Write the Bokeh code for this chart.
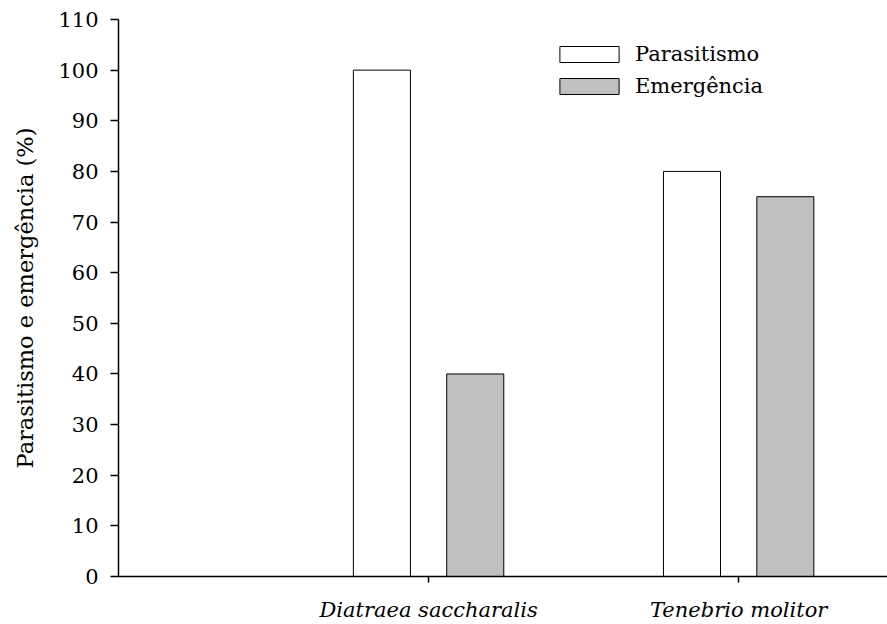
from bokeh.plotting import figure
from bokeh.models import ColumnDataSource, Range1d, FixedTicker, Legend, LegendItem
from bokeh.transform import dodge
from bokeh.embed import file_html
from bokeh.resources import INLINE

# Hosts and their measured rates (%)
categories = ["Diatraea saccharalis", "Tenebrio molitor"]
positions = [1, 2]
parasitismo = [100, 80]
emergencia = [40, 75]
y_ticks = list(range(0, 111, 10))

FONT = "DejaVu Serif"
FS = "21px"

src = ColumnDataSource(dict(pos=positions, cat=categories,
                            parasitismo=parasitismo, emergencia=emergencia))

p = figure(width=887, height=624, output_backend="svg", toolbar_location=None,
           x_range=Range1d(0, 2.48), y_range=Range1d(0, 110),
           min_border_left=118, min_border_right=0,
           min_border_top=19, min_border_bottom=47)
p.outline_line_color = None
p.xgrid.visible = False
p.ygrid.visible = False

bar_w = 0.184
off = 0.1505
r1 = p.vbar(x=dodge("pos", -off, range=p.x_range), top="parasitismo", width=bar_w,
            source=src, fill_color="white", line_color="black", line_width=1)
r2 = p.vbar(x=dodge("pos", off, range=p.x_range), top="emergencia", width=bar_w,
            source=src, fill_color="#c0c0c0", line_color="black", line_width=1)

# y axis
ya = p.yaxis[0]
ya.ticker = FixedTicker(ticks=y_ticks)
ya.minor_tick_line_color = None
ya.major_tick_in = 0
ya.major_tick_out = 8
ya.major_label_standoff = 12
ya.axis_line_width = 1.5
ya.major_tick_line_width = 1.5
ya.axis_line_color = "black"
ya.major_tick_line_color = "black"
ya.major_label_text_font = FONT
ya.major_label_text_font_size = FS
ya.major_label_text_color = "black"
ya.axis_label = "Parasitismo e emergência (%)"
ya.axis_label_text_font = FONT
ya.axis_label_text_font_size = "22.5px"
ya.axis_label_text_font_style = "normal"
ya.axis_label_text_color = "black"
ya.axis_label_standoff = 17

# x axis with host names
xa = p.xaxis[0]
xa.ticker = FixedTicker(ticks=positions)
xa.major_label_overrides = {pos: name for pos, name in zip(positions, categories)}
xa.minor_tick_line_color = None
xa.major_tick_in = 0
xa.major_tick_out = 6
xa.major_label_standoff = 15
xa.axis_line_width = 1.5
xa.major_tick_line_width = 1.5
xa.axis_line_color = "black"
xa.major_tick_line_color = "black"
xa.major_label_text_font = FONT
xa.major_label_text_font_size = FS
xa.major_label_text_font_style = "italic"
xa.major_label_text_color = "black"

legend = Legend(items=[LegendItem(label="Parasitismo", renderers=[r1]),
                       LegendItem(label="Emergência", renderers=[r2])],
                location=(434, 478), orientation="vertical",
                glyph_width=74, glyph_height=20, label_standoff=9,
                spacing=8, padding=0, margin=0,
                label_text_font=FONT, label_text_font_size=FS,
                label_text_color="black",
                background_fill_alpha=0, border_line_alpha=0)
p.add_layout(legend, "center")

open("out.html", "w").write(file_html(p, INLINE))
